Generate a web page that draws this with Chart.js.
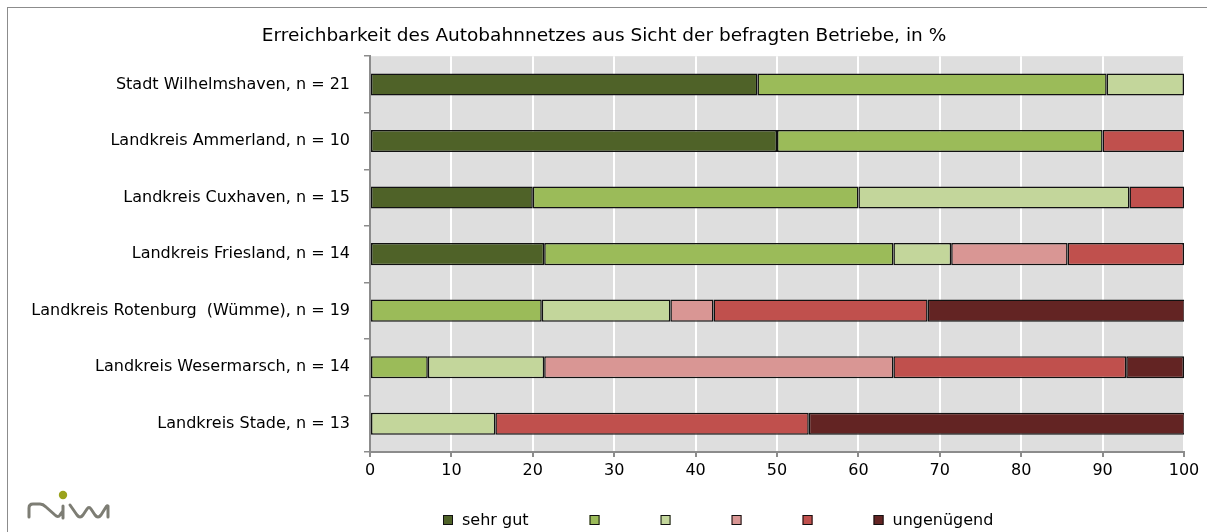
<!DOCTYPE html>
<html lang="de">
<head>
<meta charset="utf-8">
<title>Erreichbarkeit des Autobahnnetzes</title>
<script src="https://cdn.jsdelivr.net/npm/chart.js@4/dist/chart.umd.min.js"></script>
<style>
  html, body { margin: 0; padding: 0; background: #fff; }
  #wrap { position: relative; width: 1207px; height: 532px; overflow: hidden; }
  #frame { position: absolute; left: 7px; top: 7px; width: 1300px; height: 600px;
           border-left: 1px solid #8c8c8c; border-top: 1px solid #8c8c8c; }
  #logo { position: absolute; left: 22px; top: 484px; }
  canvas { position: absolute; left: 0; top: 0; }
</style>
</head>
<body>
<div id="wrap">
  <div id="frame"></div>
  <canvas id="reachChart" width="1207" height="532"></canvas>
  <svg id="logo" width="100" height="46" viewBox="0 0 100 46">
    <circle cx="41" cy="11" r="4.2" fill="#9aa21c"/>
    <path d="M7 33 L7 24 Q7 20 11 20 L18 20 Q21 20 24 23 L33 31 Q36 34 38 31 L41 27 L41 34
             M41 27 L41 22"
          fill="none" stroke="#7d7d74" stroke-width="3" stroke-linecap="round" stroke-linejoin="round"/>
    <path d="M48 21 L55 31 Q58 35 61 31 L65 25 Q67 22 69 25 L73 31 Q76 35 79 31 L84 23 Q85 21 86 22 L86 33"
          fill="none" stroke="#7d7d74" stroke-width="3" stroke-linecap="round" stroke-linejoin="round"/>
  </svg>
</div>
<script>
const regions = [
  'Stadt Wilhelmshaven, n = 21',
  'Landkreis Ammerland, n = 10',
  'Landkreis Cuxhaven, n = 15',
  'Landkreis Friesland, n = 14',
  'Landkreis Rotenburg  (Wümme), n = 19',
  'Landkreis Wesermarsch, n = 14',
  'Landkreis Stade, n = 13',
];

const ratingLabels = ['sehr gut', '', '', '', '', 'ungenügend'];
const ratingColors = ['#4f6228', '#9bbb59', '#c3d69b', '#d99694', '#c0504d', '#632423'];

// shares in percent, one array per rating step (1 = sehr gut ... 6 = ungenügend)
const rating1 = [47.6, 50.0, 20.0, 21.4, 0, 0, 0];
const rating2 = [42.9, 40.0, 40.0, 42.9, 21.1, 7.1, 0];
const rating3 = [9.5, 0, 33.3, 7.1, 15.8, 14.3, 15.4];
const rating4 = [0, 0, 0, 14.3, 5.3, 42.9, 0];
const rating5 = [0, 10.0, 6.7, 14.3, 26.3, 28.6, 38.5];
const rating6 = [0, 0, 0, 0, 31.6, 7.1, 46.2];

const xTicks = [0, 10, 20, 30, 40, 50, 60, 70, 80, 90, 100];

const FONT = "'DejaVu Sans', sans-serif";

const plotBackground = {
  id: 'plotBackground',
  beforeDraw(chart) {
    const { ctx, chartArea: a } = chart;
    ctx.save();
    ctx.fillStyle = '#dedede';
    ctx.fillRect(a.left, a.top, a.right - a.left, a.bottom - a.top);
    ctx.restore();
  },
};

// legend row under the axis: small framed squares, wide gaps between entries
const bottomLegend = {
  id: 'bottomLegend',
  afterDraw(chart, args, opts) {
    const { ctx } = chart;
    ctx.save();
    ctx.font = `${opts.size}px ${FONT}`;
    ctx.textBaseline = 'middle';
    let x = opts.x;
    const y = opts.y;
    chart.data.datasets.forEach((ds) => {
      ctx.fillStyle = ds.backgroundColor;
      ctx.fillRect(x, y - 5, 10, 10);
      ctx.strokeStyle = '#111';
      ctx.lineWidth = 1;
      ctx.strokeRect(x + 0.5, y - 4.5, 9, 9);
      const w = ctx.measureText(ds.label).width;
      ctx.fillStyle = '#000';
      ctx.fillText(ds.label, x + 19, y + 1);
      x += 10 + (ds.label ? 9 + w : 0) + opts.gap;
    });
    ctx.restore();
  },
};

const series = [rating1, rating2, rating3, rating4, rating5, rating6];

new Chart(document.getElementById('reachChart').getContext('2d'), {
  type: 'bar',
  data: {
    labels: regions,
    datasets: series.map((values, i) => ({
      label: ratingLabels[i],
      data: values,
      backgroundColor: ratingColors[i],
      borderColor: '#111',
      borderWidth: 1.5,
      borderSkipped: false,
      barPercentage: 0.78,
      categoryPercentage: 0.5,
    })),
  },
  options: {
    indexAxis: 'y',
    responsive: false,
    animation: false,
    layout: { padding: { left: 24, right: 23, top: 14, bottom: 0 } },
    plugins: {
      title: {
        display: true,
        text: 'Erreichbarkeit des Autobahnnetzes aus Sicht der befragten Betriebe, in %',
        color: '#000',
        font: { family: FONT, size: 18.5, weight: 'normal', lineHeight: 1.2 },
        padding: { top: 11, bottom: 9 },
      },
      legend: { display: false },
      bottomLegend: { x: 443, y: 520, gap: 61, size: 16 },
      tooltip: { enabled: false },
    },
    scales: {
      x: {
        stacked: true,
        min: 0,
        max: 100,
        afterBuildTicks(scale) { scale.ticks = xTicks.map((v) => ({ value: v })); },
        afterFit(scale) { scale.height = 80; },
        ticks: { color: '#000', font: { family: FONT, size: 16 }, padding: 4 },
        grid: { color: '#fff', lineWidth: 2, tickColor: '#8c8c8c', tickLength: 5 },
        border: { color: '#8c8c8c', width: 2 },
      },
      y: {
        stacked: true,
        afterFit(scale) { scale.width = 346; },
        ticks: { color: '#000', font: { family: FONT, size: 16 }, padding: 14 },
        grid: { offset: true, drawOnChartArea: false, tickColor: '#8c8c8c', tickLength: 6, lineWidth: 1.5 },
        border: { color: '#8c8c8c', width: 2 },
      },
    },
  },
  plugins: [plotBackground, bottomLegend],
});
</script>
</body>
</html>
